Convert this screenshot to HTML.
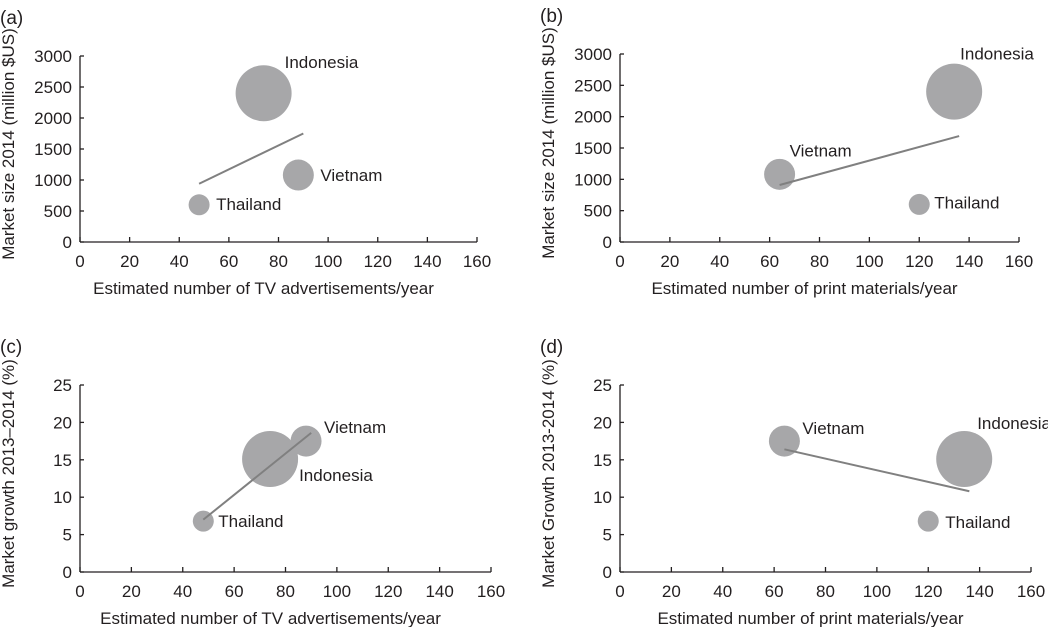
<!DOCTYPE html>
<html><head><meta charset="utf-8"><style>
body{margin:0;background:#fff;}
svg{display:block;font-family:"Liberation Sans",Arial,sans-serif;}
text{fill:#231f20;}
</style></head><body>
<svg id="chart" width="1048" height="627" viewBox="0 0 1048 627"></svg>
<script>
const countries = ["Indonesia","Vietnam","Thailand"];
const radii = [28, 15.5, 10.5];
const tvAds = [74, 88, 48];
const printMats = [134, 64, 120];
const marketSize = [2400, 1080, 600];
const marketGrowth = [15.1, 17.5, 6.8];
const xTicks = [0,20,40,60,80,100,120,140,160];
const sizeTicks = [0,500,1000,1500,2000,2500,3000];
const growthTicks = [0,5,10,15,20,25];
const trendA = [[48,940],[90,1750]];
const trendB = [[64,910],[136,1690]];
const trendC = [[48,7],[90,18.6]];
const trendD = [[64,16.4],[136,10.8]];

const NS="http://www.w3.org/2000/svg";
const svg=document.getElementById('chart');
function mk(tag,attrs,parent){const e=document.createElementNS(NS,tag);for(const k in attrs)e.setAttribute(k,attrs[k]);(parent||svg).appendChild(e);return e;}

const panels=[
 {id:'a',letter:'(a)',x0:80,x1:477,y0:242,y1:56,ymax:3000,xs:tvAds,ys:marketSize,yt:sizeTicks,trend:trendA,
  xl:'Estimated number of TV advertisements/year',yl:'Market size 2014 (million $US)',
  lab:[[21,-25],[22,6],[17,5]]},
 {id:'b',letter:'(b)',x0:620,x1:1019,y0:242,y1:54,ymax:3000,xs:printMats,ys:marketSize,yt:sizeTicks,trend:trendB,
  xl:'Estimated number of print materials/year',yl:'Market size 2014 (million $US)',
  lab:[[6,-32],[10,-18],[15,4]]},
 {id:'c',letter:'(c)',x0:80,x1:491,y0:572,y1:385,ymax:25,xs:tvAds,ys:marketGrowth,yt:growthTicks,trend:trendC,
  xl:'Estimated number of TV advertisements/year',yl:'Market growth 2013\u20132014 (%)',
  lab:[[29,22],[18,-8],[15,6]]},
 {id:'d',letter:'(d)',x0:620,x1:1031,y0:572,y1:385,ymax:25,xs:printMats,ys:marketGrowth,yt:growthTicks,trend:trendD,
  xl:'Estimated number of print materials/year',yl:'Market Growth 2013-2014 (%)',
  lab:[[13,-30],[18,-7],[17,7]]}
];
panels.forEach(p=>{
  const g=mk('g',{});
  
  
  const X=v=>p.x0+(p.x1-p.x0)*v/160;
  const Y=v=>p.y0-(p.y0-p.y1)*v/p.ymax;
  const lt=mk('text',{x:p.x0-80,y:p.y1-32,'font-size':19},g);lt.textContent=p.letter;
  
  
  const ax=mk('g',{stroke:'#231f20','stroke-width':1.3},g);
  
  
  mk('line',{x1:p.x0,y1:p.y0,x2:p.x1,y2:p.y0},ax);
  mk('line',{x1:p.x0,y1:p.y0,x2:p.x0,y2:p.y1},ax);
  xTicks.forEach(t=>{
    mk('line',{x1:X(t),y1:p.y0,x2:X(t),y2:p.y0-5},ax);
    const tx=mk('text',{x:X(t),y:p.y0+25,'font-size':17,'text-anchor':'middle'},g);tx.textContent=t;
    
    
  });
  p.yt.forEach(t=>{
    mk('line',{x1:p.x0,y1:Y(t),x2:p.x0+4,y2:Y(t)},ax);
    const tx=mk('text',{x:p.x0-8,y:Y(t)+6,'font-size':17,'text-anchor':'end'},g);tx.textContent=t;
    
    
  });
  const xt=mk('text',{x:(p.x0+p.x1)/2-15,y:p.y0+52,'font-size':17,'text-anchor':'middle'},g);xt.textContent=p.xl;
  
  
  const yx=p.x0-66, yy=(p.y0+p.y1)/2-5;
  const yt=mk('text',{x:yx,y:yy,'font-size':17,'text-anchor':'middle',transform:`rotate(-90 ${yx} ${yy})`},g);yt.textContent=p.yl;
  
  
  countries.forEach((c,i)=>{
    const cx=X(p.xs[i]),cy=Y(p.ys[i]);
    const b=mk('circle',{cx:cx,cy:cy,r:radii[i],fill:'#a7a7a9'},g);
    
    
  });
  const tl=mk('line',{x1:X(p.trend[0][0]),y1:Y(p.trend[0][1]),x2:X(p.trend[1][0]),y2:Y(p.trend[1][1]),stroke:'#808080','stroke-width':2},g);
  
  
  countries.forEach((c,i)=>{
    const cx=X(p.xs[i]),cy=Y(p.ys[i]);const L=p.lab[i];
    const t=mk('text',{x:cx+L[0],y:cy+L[1],'font-size':17},g);t.textContent=c;
    
    
  });
});
</script>
</body></html>
